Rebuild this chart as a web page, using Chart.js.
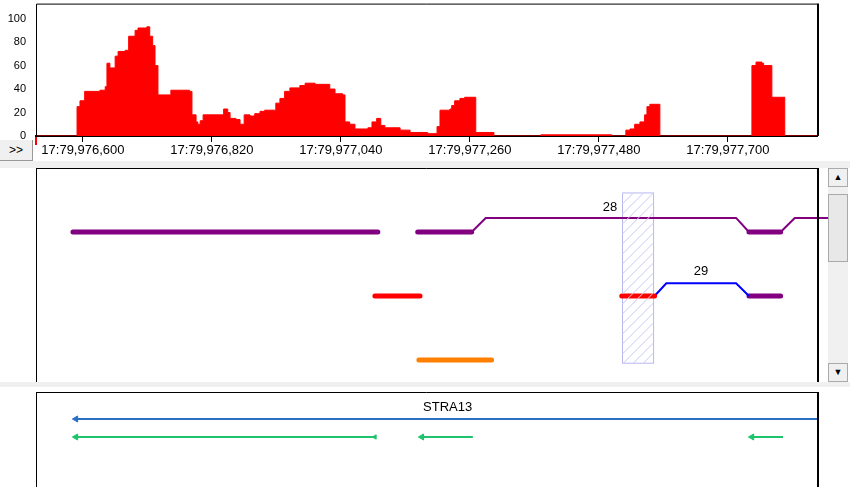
<!DOCTYPE html>
<html><head><meta charset="utf-8">
<script src="https://cdn.jsdelivr.net/npm/chart.js@4"></script>
<style>
html,body{margin:0;padding:0;background:#fff;width:850px;height:487px;overflow:hidden;font-family:"Liberation Sans",Arial,sans-serif}
canvas{position:absolute;left:0}
#c1{top:-5px}#c2{top:168px}#c3{top:387px}
.sep{position:absolute;left:0;width:850px;background:#f0f0f0}
#btn{position:absolute;left:0;top:140px;width:32px;height:20px;background:#f0f0f0;border-right:1px solid #999;border-bottom:1px solid #999;font-size:12px;line-height:20px;text-align:center}
#sb{position:absolute;left:828px;top:168px;width:20px;height:214px;background:#f0f0f0}
.sbb{position:absolute;left:0;width:18px;height:17px;background:#f0f0f0;border:1px solid #aaa;font-size:9px;line-height:17px;text-align:center}
</style></head><body>
<div class="sep" style="top:161px;height:7px"></div>
<div class="sep" style="top:382px;height:5px"></div>
<canvas id="c1" width="850" height="166"></canvas>
<canvas id="c2" width="850" height="214"></canvas>
<canvas id="c3" width="850" height="100"></canvas>
<div id="btn">&gt;&gt;</div>
<div id="sb"><div class="sbb" style="top:0">&#9650;</div><div class="sbb" style="top:26px;height:66px;background:#e8e8e8"></div><div class="sbb" style="top:195px">&#9660;</div></div>
<script>
const xMin = 976520, xMax = 977852;
const tickPositions = [976600, 976820, 977040, 977260, 977480, 977700];
const tickPrefix = "17:79,";
const yTicks = [0, 20, 40, 60, 80, 100];
const covPos = [976520,976590,976595,976603,976629,976638,976641,976646,976655,976660,976672,976678,976689,976694,976709,976714,976719,976723,976728,976750,976782,976786,976793,976796,976800,976805,976837,976840,976847,976851,976861,976868,976875,976885,976893,976902,976910,976926,976929,976936,976944,976953,976970,976979,976996,977021,977030,977043,977047,977055,977064,977086,977093,977101,977108,977115,977141,977158,977188,977204,977209,977226,977229,977234,977243,977251,977270,977301,977381,977502,977526,977533,977541,977550,977558,977562,977567,977584,977741,977748,977758,977761,977775,977797,977852];
const covVal = [0,25,30,38,39,42,62,58,68,72,73,85,90,92,93,85,77,60,35,39,38,18,12,10,13,18,18,23,20,15,14,10,18,17,19,21,22,22,28,32,38,41,43,45,44,40,36,35,12,10,6,7,12,15,9,7,5,3,2,8,22,23,26,30,32,33,3,0,1,0,5,6,10,12,18,25,27,0,60,63,62,60,33,0,0];

const trackX = [
  [976583,977103],[977171,977263],[977263,977287,977714,977736],[977736,977790],[977790,977814,977871],
  [977098,977175],[977519,977575],[977575,977595,977714,977736],[977736,977790],
  [977173,977297]
];
const trackLane = [
  [1,1],[1,1],[1,0.78,0.78,1],[1,1],[1,0.78,0.78],
  [2,2],[2,2],[2,1.8,1.8,2],[2,2],
  [3,3]
];
const trackColor = ['#800080','#800080','#800080','#800080','#800080','#ff0000','#ff0000','#0000ff','#800080','#ff8000'];
const trackWidth = [5,5,2,5,2,5,5,2,5,5];
const hatchX = [977520,977573], hatchLane = [0.39,3.05];
const midLabels = [["28",977499,0.62],["29",977654,1.62]];

const geneName = "STRA13", geneLabelX = 977222, geneLabelY = 0.85;
const geneX = [[976588,977852],[976588,977098],[977178,977265],[977741,977794]];
const geneLane = [1.5,2.5,2.5,2.5];
const geneColor = ['#2a6fc4','#1dc46c','#1dc46c','#1dc46c'];

const font = {family:'"Liberation Sans",Arial,sans-serif',size:12};
Chart.defaults.animation=false;
Chart.defaults.devicePixelRatio=1;

const boxPlugin = {id:'box',afterDraw(c,a,o){const ctx=c.ctx,ca=c.chartArea;ctx.save();ctx.strokeStyle='#000';
  ctx.lineWidth=1;ctx.beginPath();ctx.moveTo(ca.left+0.5,ca.bottom);ctx.lineTo(ca.left+0.5,ca.top+0.5);ctx.lineTo(ca.right,ca.top+0.5);ctx.stroke();
  ctx.lineWidth=2;ctx.beginPath();ctx.moveTo(ca.right+1,ca.top);ctx.lineTo(ca.right+1,o.bottom?ca.bottom:c.height);ctx.stroke();
  if(!o.bottom){ctx.lineWidth=1;ctx.beginPath();ctx.moveTo(ca.left+0.5,ca.top);ctx.lineTo(ca.left+0.5,c.height);ctx.stroke();}
  ctx.restore();}};

new Chart(document.getElementById('c1'),{type:'line',
 data:{datasets:[{data:covPos.map((x,i)=>({x,y:covVal[i]})),stepped:'before',fill:'origin',backgroundColor:'#ff0000',borderColor:'#ff0000',borderWidth:1,pointRadius:0}]},
 options:{responsive:false,layout:{padding:{top:0,right:33,left:0,bottom:0}},
  plugins:{legend:{display:false},tooltip:{enabled:false},box:{bottom:true}},
  scales:{x:{type:'linear',min:xMin,max:xMax,afterBuildTicks:s=>{s.ticks=tickPositions.map(v=>({value:v}));},
     afterFit:s=>{s.height=25;},border:{color:'#000',width:2},
     grid:{drawOnChartArea:false,color:'#000',tickLength:6},
     ticks:{color:'#000',font:{...font,size:13},padding:1,maxRotation:0,callback:v=>tickPrefix+v.toLocaleString('en-US')}},
   y:{min:0,max:112.8,afterBuildTicks:s=>{s.ticks=yTicks.map(v=>({value:v}));},afterFit:s=>{s.width=36;},
     border:{display:false},grid:{display:false},ticks:{color:'#000',font:{...font,size:11},padding:2}}}},
 plugins:[boxPlugin,{id:'redmark',afterDraw(c){const ctx=c.ctx;ctx.fillStyle='#ff0000';ctx.fillRect(c.chartArea.left-1,c.chartArea.bottom+1,2,8);}}]});

const hatchPlugin={id:'hatch',beforeDatasetsDraw(c){const ctx=c.ctx,x=c.scales.x,y=c.scales.y;
  const x0=x.getPixelForValue(hatchX[0]),x1=x.getPixelForValue(hatchX[1]),y0=y.getPixelForValue(hatchLane[0]),y1=y.getPixelForValue(hatchLane[1]);
  ctx.save();ctx.strokeStyle='#b8b8ee';ctx.lineWidth=1;ctx.strokeRect(Math.round(x0)+0.5,y0,x1-x0,y1-y0);
  ctx.beginPath();ctx.rect(x0,y0,x1-x0,y1-y0);ctx.clip();ctx.beginPath();
  for(let k=y0-40;k<y1+40;k+=10){ctx.moveTo(x0,k+(x1-x0));ctx.lineTo(x1,k);}ctx.stroke();ctx.restore();},
 afterDatasetsDraw(c){const ctx=c.ctx,x=c.scales.x,y=c.scales.y;
  const x0=x.getPixelForValue(hatchX[0]),x1=x.getPixelForValue(hatchX[1]),y0=y.getPixelForValue(hatchLane[0]),y1=y.getPixelForValue(hatchLane[1]);
  ctx.save();ctx.beginPath();ctx.rect(x0,y0,x1-x0,y1-y0);ctx.clip();ctx.strokeStyle='rgba(235,235,255,0.9)';ctx.beginPath();
  for(let k=y0-40;k<y1+40;k+=10){ctx.moveTo(x0,k+(x1-x0));ctx.lineTo(x1,k);}ctx.stroke();ctx.restore();
  ctx.save();ctx.fillStyle='#000';ctx.font='13px "Liberation Sans",Arial';ctx.textAlign='center';ctx.textBaseline='middle';
  midLabels.forEach(l=>ctx.fillText(l[0],x.getPixelForValue(l[1]),y.getPixelForValue(l[2])));ctx.restore();}};
new Chart(document.getElementById('c2'),{type:'line',
 data:{datasets:trackX.map((xs,i)=>({data:xs.map((v,j)=>({x:v,y:trackLane[i][j]})),borderColor:trackColor[i],borderWidth:trackWidth[i],pointRadius:0,borderCapStyle:trackWidth[i]>3?'round':'butt',clip:false,tension:0}))},
 options:{responsive:false,layout:{padding:{left:36,right:33,top:0,bottom:2}},
  plugins:{legend:{display:false},tooltip:{enabled:false},box:{bottom:false}},
  scales:{x:{type:'linear',min:xMin,max:xMax,display:false},y:{min:0,max:3.3125,reverse:true,display:false}}},
 plugins:[boxPlugin,hatchPlugin]});

new Chart(document.getElementById('c3'),{type:'line',
 data:{datasets:geneX.map((xs,i)=>({data:xs.map(v=>({x:v,y:geneLane[i]})),borderColor:geneColor[i],backgroundColor:geneColor[i],borderWidth:2,
   pointStyle:'triangle',pointRotation:270,pointRadius:ctx=>ctx.dataIndex===0?3.5:(i===1?2.5:0),pointBorderWidth:1,clip:false}))},
 options:{responsive:false,layout:{padding:{left:36,right:33,top:0,bottom:0}},
  plugins:{legend:{display:false},tooltip:{enabled:false},box:{bottom:false}},
  scales:{x:{type:'linear',min:xMin,max:xMax,display:false},y:{min:0,max:5,reverse:true,display:false}}},
 plugins:[boxPlugin,{id:'gl',afterDraw(c){const ctx=c.ctx;ctx.save();ctx.fillStyle='#000';ctx.font='13px "Liberation Sans",Arial';ctx.textAlign='center';ctx.textBaseline='middle';
   ctx.fillText(geneName,c.scales.x.getPixelForValue(geneLabelX),c.scales.y.getPixelForValue(geneLabelY));ctx.restore();}}]});
</script></body></html>
